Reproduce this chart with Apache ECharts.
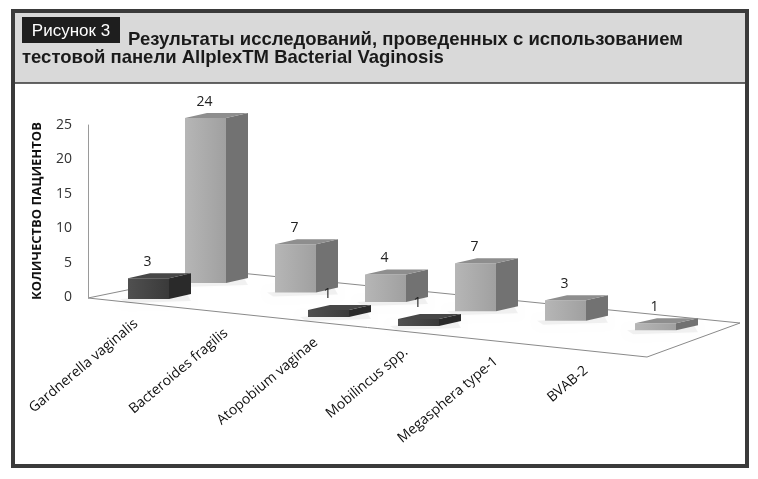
<!DOCTYPE html>
<html>
<head>
<meta charset="utf-8">
<script src="https://cdn.jsdelivr.net/npm/echarts@6/dist/echarts.min.js"></script>
<style>
  html, body { margin: 0; padding: 0; background: #fff; }
  #chart { width: 758px; height: 479px; }
</style>
</head>
<body>
<div id="chart"></div>
<script>
// данные с рисунка
const categories = ['Gardnerella vaginalis', 'Bacteroides fragilis', 'Atopobium vaginae',
  'Mobilincus spp.', 'Megasphera type-1', 'BVAB-2'];
const frontValues = [3, null, 1, 1, null, null];   // передний (тёмный) ряд
const backValues = [24, 7, 4, 7, 3, 1];            // задний (светлый) ряд
const yMin = 0, yMax = 25, yStep = 5;
const yName = 'КОЛИЧЕСТВО ПАЦИЕНТОВ';
const figLabel = 'Рисунок 3';
const titleLine1 = 'Результаты исследований, проведенных с использованием';
const titleLine2 = 'тестовой панели AllplexTM Bacterial Vaginosis';

// псевдо-3D: смещения рядов и граней
const FW = 41, BX = 22, BY = -5;
const ROWS = {
  front: { ox: -32, oy: 2, slope: 0.1,
    colors: ['#505050', '#3a3a3a', '#2a2a2a', '#474747'] },
  back: { ox: 25, oy: -14, slope: 0.105,
    colors: ['#b6b6b6', '#a0a0a0', '#727272', '#8e8e8e'] }
};

function toData(arr) {
  const out = [];
  arr.forEach(function (v, i) { if (v != null) out.push([i, v]); });
  return out;
}

function boxRenderer(row) {
  return function (params, api) {
    const i = api.value(0), v = api.value(1);
    const p = api.coord([i, 0]);
    const base = api.coord([0, 0]);
    const h = api.size([0, v])[1];
    const x0 = p[0] + row.ox;
    const yb = p[1] + row.oy + row.slope * (p[0] - base[0]);
    const yt = yb - h;
    const c = row.colors;
    return {
      type: 'group',
      children: [
        // мягкая тень на полу
        { type: 'polygon', silent: true,
          shape: { points: [[x0 - 8, yb], [x0 + FW + BX - 4, yb + BY], [x0 + FW + BX, yb + 2], [x0 - 2, yb + 4]] },
          style: { fill: 'rgba(0,0,0,0.05)', shadowBlur: 7, shadowColor: 'rgba(0,0,0,0.22)' } },
        { type: 'rect', shape: { x: x0, y: yt, width: FW, height: h },
          style: { fill: new echarts.graphic.LinearGradient(0, 0, 1, 0, [
            { offset: 0, color: c[0] }, { offset: 1, color: c[1] }]) } },
        { type: 'polygon',
          shape: { points: [[x0 + FW, yb], [x0 + FW + BX, yb + BY], [x0 + FW + BX, yt + BY], [x0 + FW, yt]] },
          style: { fill: c[2] } },
        { type: 'polygon',
          shape: { points: [[x0, yt], [x0 + FW, yt], [x0 + FW + BX, yt + BY], [x0 + BX, yt + BY]] },
          style: { fill: c[3] } },
        { type: 'text', x: x0 + FW / 2 - 1, y: yt - 16,
          style: { text: String(v), align: 'center', verticalAlign: 'middle',
            font: '14px "Open Sans", sans-serif', fill: '#222' } }
      ]
    };
  };
}

function floorRenderer(params, api) {
  const cs = params.coordSys;
  const ax = cs.x - 27, ay = cs.y + cs.height + 1;
  return {
    type: 'polygon',
    shape: { points: [[ax, ay], [ax + 559, ay + 59], [ax + 652, ay + 25], [ax + 132, ay - 27]] },
    style: { fill: '#fff', stroke: '#8a8a8a', lineWidth: 1 }
  };
}

function labelRenderer(params, api) {
  const i = api.value(0);
  const p = api.coord([i, 0]);
  const base = api.coord([0, 0]);
  return {
    type: 'text',
    x: p[0] - 24, y: p[1] + 25 + 0.104 * (p[0] - base[0]),
    rotation: 40 * Math.PI / 180,
    style: { text: categories[i], align: 'right', verticalAlign: 'middle',
      font: '14px "Open Sans", sans-serif', fill: '#111' }
  };
}

const chart = echarts.init(document.getElementById('chart'));
chart.setOption({
  animation: false,
  graphic: [
    { type: 'rect', z: -10, shape: { x: 13, y: 11, width: 734, height: 455 },
      style: { fill: '#fff', stroke: '#3a3a3a', lineWidth: 4 } },
    { type: 'rect', z: -9, shape: { x: 15, y: 13, width: 730, height: 70 },
      style: { fill: '#d9d9d9' } },
    { type: 'line', z: -8, shape: { x1: 15, y1: 83, x2: 745, y2: 83 },
      style: { stroke: '#333', lineWidth: 1.5 } },
    { type: 'rect', z: -7, shape: { x: 22, y: 17, width: 98, height: 26 },
      style: { fill: '#1e1e1e' } },
    { type: 'text', z: -6, x: 71, y: 31,
      style: { text: figLabel, align: 'center', verticalAlign: 'middle',
        font: '17px "Liberation Sans", sans-serif', fill: '#fff' } },
    { type: 'text', z: -6, x: 128, y: 40,
      style: { text: titleLine1, align: 'left', verticalAlign: 'middle',
        font: 'bold 18.5px "Liberation Sans", sans-serif', fill: '#1a1a1a' } },
    { type: 'text', z: -6, x: 22, y: 58,
      style: { text: titleLine2, align: 'left', verticalAlign: 'middle',
        font: 'bold 18.5px "Liberation Sans", sans-serif', fill: '#1a1a1a' } }
  ],
  grid: { left: 115, top: 125, width: 540, height: 172 },
  xAxis: {
    type: 'category', data: categories,
    axisLine: { show: false }, axisTick: { show: false }, axisLabel: { show: false }
  },
  yAxis: {
    type: 'value', min: yMin, max: yMax, interval: yStep, offset: 27,
    name: yName, nameLocation: 'middle', nameRotate: 90, nameGap: 44,
    nameTextStyle: { fontFamily: 'Open Sans', fontWeight: 'bold', fontSize: 13, color: '#111' },
    axisLine: { show: true, lineStyle: { color: '#9a9a9a', width: 1 } },
    axisTick: { show: false },
    splitLine: { show: false },
    axisLabel: { margin: 16, fontFamily: 'Open Sans', fontSize: 14, color: '#333' }
  },
  series: [
    { type: 'custom', name: 'floor', z: 1, data: [[0, 0]], renderItem: floorRenderer },
    { type: 'custom', name: 'back', z: 2, data: toData(backValues), renderItem: boxRenderer(ROWS.back) },
    { type: 'custom', name: 'front', z: 3, data: toData(frontValues), renderItem: boxRenderer(ROWS.front) },
    { type: 'custom', name: 'labels', z: 4, data: categories.map(function (c, i) { return [i, 0]; }),
      renderItem: labelRenderer }
  ]
});
</script>
</body>
</html>
